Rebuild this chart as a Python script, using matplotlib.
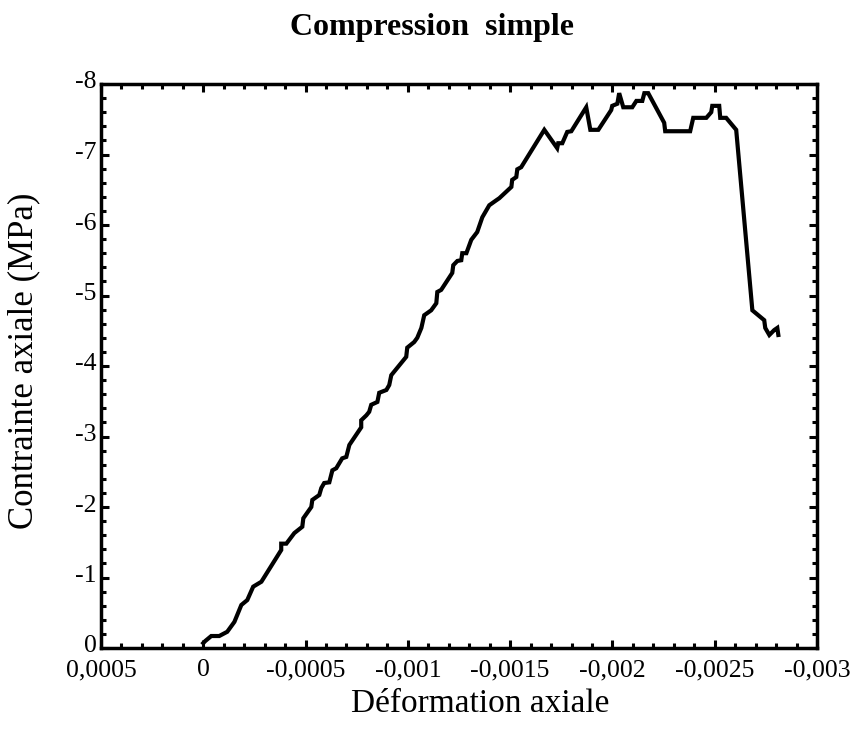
import matplotlib
matplotlib.use("Agg")
import matplotlib.pyplot as plt
from matplotlib.ticker import MultipleLocator
from matplotlib.transforms import ScaledTranslation

strain = [0.0, -0.00001, -0.000039, -0.000078, -0.000117, -0.000152, -0.000186, -0.000215,
          -0.000244, -0.000284, -0.000381, -0.000381, -0.000406, -0.000445, -0.000484, -0.000489,
          -0.000528, -0.000533, -0.000567, -0.000577, -0.000591, -0.000616, -0.000631, -0.000650,
          -0.000679, -0.000699, -0.000714, -0.000772, -0.000772, -0.000797, -0.000811, -0.000821,
          -0.000851, -0.000860, -0.000895, -0.000909, -0.000919, -0.000992, -0.000997, -0.001031,
          -0.001046, -0.001066, -0.001080, -0.001114, -0.001139, -0.001144, -0.001163, -0.001217,
          -0.001222, -0.001242, -0.001261, -0.001266, -0.001286, -0.001310, -0.001339, -0.001364,
          -0.001398, -0.001432, -0.001447, -0.001506, -0.001510, -0.001530, -0.001535, -0.001554,
          -0.001667, -0.001730, -0.001735, -0.001755, -0.001779, -0.001799, -0.001872, -0.001892,
          -0.001931, -0.001994, -0.001999, -0.002024, -0.002033, -0.002053, -0.002097, -0.002117,
          -0.002146, -0.002156, -0.002175, -0.002253, -0.002258, -0.002380, -0.002395, -0.002459,
          -0.002483, -0.002488, -0.002522, -0.002527, -0.002556, -0.002605, -0.002684, -0.002742,
          -0.002747, -0.002767, -0.002791, -0.002806, -0.002811]
stress = [-0.07, -0.10, -0.17, -0.17, -0.23, -0.37, -0.61, -0.68,
          -0.87, -0.94, -1.39, -1.48, -1.48, -1.63, -1.72, -1.84,
          -2.00, -2.10, -2.17, -2.27, -2.34, -2.35, -2.52, -2.55,
          -2.69, -2.71, -2.88, -3.13, -3.23, -3.30, -3.35, -3.45,
          -3.49, -3.62, -3.66, -3.73, -3.87, -4.13, -4.26, -4.34,
          -4.40, -4.54, -4.72, -4.79, -4.89, -5.05, -5.08, -5.32,
          -5.43, -5.49, -5.50, -5.60, -5.60, -5.79, -5.90, -6.11,
          -6.28, -6.35, -6.38, -6.54, -6.64, -6.68, -6.79, -6.82,
          -7.35, -7.09, -7.16, -7.16, -7.32, -7.33, -7.67, -7.35,
          -7.35, -7.63, -7.69, -7.72, -7.87, -7.67, -7.67, -7.76,
          -7.76, -7.87, -7.87, -7.45, -7.33, -7.33, -7.52, -7.52,
          -7.60, -7.69, -7.69, -7.52, -7.52, -7.35, -4.79, -4.65,
          -4.54, -4.44, -4.51, -4.54, -4.44]

x_ticks = [0.0005, 0.0, -0.0005, -0.001, -0.0015, -0.002, -0.0025, -0.003]
x_tick_labels = ["0,0005", "0", "-0,0005", "-0,001", "-0,0015", "-0,002", "-0,0025", "-0,003"]
y_ticks = [0, -1, -2, -3, -4, -5, -6, -7, -8]
y_tick_labels = ["0", "-1", "-2", "-3", "-4", "-5", "-6", "-7", "-8"]

plt.rcParams['font.family'] = ['Liberation Serif', 'DejaVu Serif']

fig = plt.figure(figsize=(8.54, 7.31), dpi=100)
ax = fig.add_axes([101/854, 1-648/731, (817-101)/854, (648-84)/731])

ax.plot(strain, stress, color='black', lw=3.0, solid_joinstyle='miter')

ax.set_xlim(0.0005, -0.003)
ax.set_ylim(0, -8)
ax.set_xticks(x_ticks)
ax.set_xticklabels(x_tick_labels)
ax.set_yticks(y_ticks)
ax.set_yticklabels(y_tick_labels)
ax.xaxis.set_minor_locator(MultipleLocator(0.0001))
ax.yaxis.set_minor_locator(MultipleLocator(0.2))

ax.tick_params(which='both', direction='in', top=True, right=True, width=2.2, color='black')
ax.tick_params(which='major', length=6, labelsize=18.5)
ax.tick_params(axis='x', which='major', pad=8)
ax.tick_params(axis='y', which='major', pad=3)
ax.tick_params(which='minor', length=3.5)
for s in ax.spines.values():
    s.set_linewidth(2.5)

shift = ScaledTranslation(0, 4/100, fig.dpi_scale_trans)
for lab in ax.get_yticklabels():
    lab.set_transform(lab.get_transform() + shift)

fig.text(480/854, 1-704/731, "Déformation axiale", fontsize=24, ha='center', va='center')
fig.text(24/854, 1-361/731, "Contrainte axiale (MPa)", fontsize=25, ha='center', va='center', rotation=90)
fig.text(432/854, 1-28/731, "Compression  simple", fontsize=23, fontweight='bold', ha='center', va='center')

fig.savefig("out.png", dpi=100)
